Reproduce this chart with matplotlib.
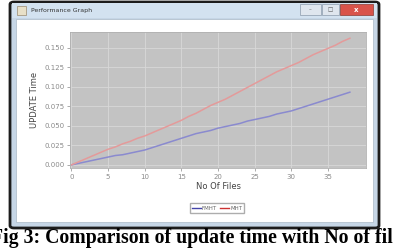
import matplotlib
matplotlib.use("Agg")
import matplotlib.pyplot as plt
from matplotlib.patches import Rectangle, FancyBboxPatch
from matplotlib.lines import Line2D

files = list(range(0, 39))
fmht = [0.000, 0.002, 0.004, 0.006, 0.008, 0.010, 0.012, 0.013, 0.015, 0.017,
        0.019, 0.022, 0.025, 0.028, 0.031, 0.034, 0.037, 0.040, 0.042, 0.044,
        0.047, 0.049, 0.051, 0.053, 0.056, 0.058, 0.060, 0.062, 0.065, 0.067,
        0.069, 0.072, 0.075, 0.078, 0.081, 0.084, 0.087, 0.090, 0.093]
mht = [0.000, 0.004, 0.008, 0.012, 0.016, 0.020, 0.023, 0.027, 0.030, 0.034,
       0.037, 0.041, 0.045, 0.049, 0.053, 0.057, 0.062, 0.066, 0.071, 0.076,
       0.080, 0.084, 0.089, 0.094, 0.099, 0.104, 0.109, 0.114, 0.119, 0.123,
       0.127, 0.131, 0.136, 0.141, 0.145, 0.149, 0.153, 0.158, 0.162]
series_names = ["FMHT", "MHT"]
x_ticks = [0, 5, 10, 15, 20, 25, 30, 35]
y_ticks = [0.000, 0.025, 0.050, 0.075, 0.100, 0.125, 0.150]

W, H = 393, 248
fig = plt.figure(figsize=(W / 100, H / 100), dpi=100)
fig.patch.set_facecolor("white")


def fx(px):
    return px / W


def fy(py):
    return 1 - py / H


def rect(x0, y0, x1, y1, **kw):
    r = Rectangle((fx(x0), fy(y1)), fx(x1) - fx(x0), fy(y0) - fy(y1),
                  transform=fig.transFigure, zorder=-5, **kw)
    fig.add_artist(r)
    return r


# window frame
frame = FancyBboxPatch((fx(10), fy(228)), fx(379) - fx(10), fy(2) - fy(228),
                       boxstyle="round,pad=0,rounding_size=0.01",
                       transform=fig.transFigure, facecolor="#c6d6e6",
                       edgecolor="#1c1c1c", linewidth=2.0, zorder=-6)
fig.add_artist(frame)
# title bar lighter top
rect(12, 3, 377, 18, facecolor="#d3e2f0", edgecolor="none")
# buttons
rect(300, 4, 321, 15, facecolor="#dfe6ee", edgecolor="#8a9aab", linewidth=0.5)
rect(322, 4, 339, 15, facecolor="#dfe6ee", edgecolor="#8a9aab", linewidth=0.5)
rect(340, 4, 373, 15, facecolor="#d9534a", edgecolor="#8a3a33", linewidth=0.5)
fig.text(fx(356.5), fy(9.5), "x", color="white", fontsize=5, ha="center",
         va="center", fontweight="bold")
fig.text(fx(330.5), fy(9.5), "\u25a1", color="#555", fontsize=4, ha="center", va="center")
fig.text(fx(310.5), fy(10), "\u2013", color="#555", fontsize=4, ha="center", va="center")
# icon + title
rect(17, 6, 26, 15, facecolor="#e8e0c8", edgecolor="#9a8a70", linewidth=0.5)
fig.text(fx(31), fy(10.5), "Performance Graph", fontsize=4.5, color="#333",
         ha="left", va="center")
# white content
rect(16, 19, 373, 222, facecolor="white", edgecolor="#a9b8c6", linewidth=0.5)

# plot axes
ax = fig.add_axes([fx(70), fy(168), fx(366) - fx(70), fy(32) - fy(168)])
ax.set_facecolor("#c3c3c3")
ax.plot(files, fmht, color="#8a8acf", linewidth=1.1)
ax.plot(files, mht, color="#e49a9a", linewidth=1.1)
ax.set_xlim(-0.2, 40.2)
ax.set_ylim(-0.004, 0.170)
ax.set_xticks(x_ticks)
ax.set_yticks(y_ticks)
ax.set_yticklabels([f"{v:.3f}" for v in y_ticks])
ax.grid(True, color="#d8d8d8", linewidth=0.6)
ax.set_axisbelow(True)
for s in ax.spines.values():
    s.set_color("#b0b0b0")
    s.set_linewidth(0.6)
ax.tick_params(labelsize=5, colors="#8a8a8a", length=2, width=0.5, pad=2)
ax.set_xlabel("No Of Files", fontsize=6, color="#444", labelpad=2)
ax.set_ylabel("UPDATE Time", fontsize=6, color="#444", labelpad=4)

handles = [Line2D([], [], color="#4444aa", linewidth=1.0),
           Line2D([], [], color="#cc3333", linewidth=1.0)]
leg = fig.legend(handles, series_names, loc="center", bbox_to_anchor=(fx(217), fy(208)),
                 fontsize=4, frameon=True, ncol=2, handlelength=1.6,
                 handletextpad=0.2, columnspacing=0.6, borderpad=0.4,
                 fancybox=False, edgecolor="#999")
for t in leg.get_texts():
    t.set_color("#666")

# caption
fig.text(fx(-9), fy(238), "Fig 3: Comparison of update time with No of files",
         fontsize=14.2, fontweight="bold", family="Liberation Serif",
         ha="left", va="center", color="black")

fig.savefig("out.png", dpi=100)
